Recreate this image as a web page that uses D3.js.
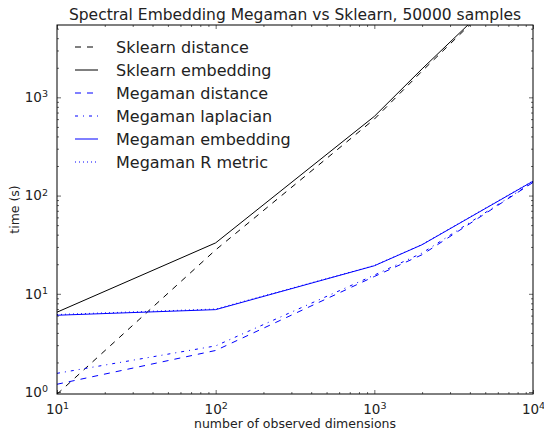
<!DOCTYPE html>
<html>
<head>
<meta charset="utf-8">
<script src="https://cdn.jsdelivr.net/npm/d3@7"></script>
<style>
  body { margin: 0; background: #fff; }
  svg { font-family: "DejaVu Sans", sans-serif; }
</style>
</head>
<body>
<div id="chart"></div>
<script>
// data
let dims = [10, 100, 1000, 2000, 10000]
let sklearnDistance = [0.95, 28, 600, 1850, 23000]
let sklearnEmbedding = [6.5, 33, 640, 1950, 23500]
let megamanDistance = [1.2, 2.65, 15, 25, 136]
let megamanLaplacian = [1.55, 2.95, 15.5, 26, 137]
let megamanEmbedding = [6.05, 6.9, 19.3, 31.6, 140]
let megamanRmetric = [6.15, 7.0, 19.4, 31.8, 141]

let seriesNames = ["Sklearn distance", "Sklearn embedding", "Megaman distance",
  "Megaman laplacian", "Megaman embedding", "Megaman R metric"]
let seriesValues = [sklearnDistance, sklearnEmbedding, megamanDistance,
  megamanLaplacian, megamanEmbedding, megamanRmetric]
let seriesColors = ["#000000", "#000000", "#0000ff", "#0000ff", "#0000ff", "#0000ff"]
let seriesDash = ["6,6", null, "6,6", "3,5,1,5", null, "1,3"]

let xTicks = [10, 100, 1000, 10000]
let yTicks = [1, 10, 100, 1000]

let svgWidth = 544
let svgHeight = 431
let margin = { top: 25, right: 11, bottom: 37, left: 57 }
let width = svgWidth - margin.left - margin.right
let height = svgHeight - margin.top - margin.bottom

let svg = d3.select("#chart").append("svg")
  .attr("width", svgWidth).attr("height", svgHeight)

let chartGroup = svg.append("g")
  .attr("transform", `translate(${margin.left}, ${margin.top})`)

let x = d3.scaleLog().domain([10, 10000]).range([0, width])
let y = d3.scaleLog().domain([0.955, 5450]).range([height, 0])

// minor ticks
function minors(lo, hi) {
  let out = []
  for (let d = lo; d < hi; d *= 10) {
    for (let k = 2; k < 10; k++) out.push(d * k)
  }
  return out
}
let xMinor = minors(10, 10000)
let yMinor = minors(0.1, 10000).filter(v => v > 0.955 && v < 5450)

function supLabels(sel) {
  sel.selectAll(".tick text").each(function (d) {
    let t = d3.select(this)
    let e = Math.round(Math.log10(d))
    t.text(null)
    t.append("tspan").text("10")
    t.append("tspan").attr("dy", "-0.5em").attr("font-size", "9.5px").text(e)
  })
}

function styleAxis(g) {
  g.select(".domain").remove()
  g.selectAll(".tick line").attr("stroke", "#000").attr("stroke-width", 0.6)
  g.selectAll("text").attr("fill", "#222")
}

// bottom and top
chartGroup.append("g").attr("transform", `translate(0,${height})`)
  .call(d3.axisBottom(x).tickValues(xTicks).tickSize(-4).tickPadding(10))
  .attr("font-size", 13.5).attr("font-family", null)
  .call(styleAxis).call(supLabels)
chartGroup.append("g").attr("transform", `translate(0,${height})`)
  .call(d3.axisBottom(x).tickValues(xMinor).tickSize(-2).tickFormat(""))
  .call(styleAxis)
chartGroup.append("g")
  .call(d3.axisTop(x).tickValues(xTicks).tickSize(-4).tickFormat(""))
  .call(styleAxis)
chartGroup.append("g")
  .call(d3.axisTop(x).tickValues(xMinor).tickSize(-2).tickFormat(""))
  .call(styleAxis)

// left and right
chartGroup.append("g")
  .call(d3.axisLeft(y).tickValues(yTicks).tickSize(-4).tickPadding(9))
  .attr("font-size", 13.5).attr("font-family", null)
  .call(styleAxis).call(supLabels)
chartGroup.append("g")
  .call(d3.axisLeft(y).tickValues(yMinor).tickSize(-2).tickFormat(""))
  .call(styleAxis)
chartGroup.append("g").attr("transform", `translate(${width},0)`)
  .call(d3.axisRight(y).tickValues(yTicks).tickSize(-4).tickFormat(""))
  .call(styleAxis)
chartGroup.append("g").attr("transform", `translate(${width},0)`)
  .call(d3.axisRight(y).tickValues(yMinor).tickSize(-2).tickFormat(""))
  .call(styleAxis)

// clip for lines
svg.append("clipPath").attr("id", "plotclip")
  .append("rect").attr("width", width).attr("height", height)

let line = d3.line()
  .x((d, i) => x(dims[i]))
  .y(d => y(d))

let lines = chartGroup.append("g").attr("clip-path", "url(#plotclip)")
seriesValues.forEach((vals, i) => {
  lines.append("path")
    .datum(vals)
    .attr("d", line)
    .attr("fill", "none")
    .attr("stroke", seriesColors[i])
    .attr("stroke-width", 1)
    .attr("stroke-dasharray", seriesDash[i])
})

// frame
chartGroup.append("rect")
  .attr("width", width).attr("height", height)
  .attr("fill", "none").attr("stroke", "#000").attr("stroke-width", 1)

// legend
let legend = chartGroup.append("g").attr("transform", "translate(18, 22)")
seriesNames.forEach((name, i) => {
  let row = legend.append("g").attr("transform", `translate(0, ${i * 23})`)
  row.append("line")
    .attr("x1", 0).attr("x2", 23).attr("y1", 0).attr("y2", 0)
    .attr("stroke", seriesColors[i]).attr("stroke-width", 1)
    .attr("stroke-dasharray", seriesDash[i])
  row.append("text")
    .attr("x", 41).attr("y", 5.5)
    .attr("font-size", 16).attr("fill", "#222")
    .text(name)
})

// titles
svg.append("text")
  .attr("x", margin.left + width / 2).attr("y", 20)
  .attr("text-anchor", "middle").attr("font-size", 15.5).attr("fill", "#222")
  .text("Spectral Embedding Megaman vs Sklearn, 50000 samples")

svg.append("text")
  .attr("x", margin.left + width / 2).attr("y", 428)
  .attr("text-anchor", "middle").attr("font-size", 12.5).attr("fill", "#222")
  .text("number of observed dimensions")

svg.append("text")
  .attr("transform", `translate(19, ${margin.top + height / 2}) rotate(-90)`)
  .attr("text-anchor", "middle").attr("font-size", 12.5).attr("fill", "#222")
  .text("time (s)")
</script>
</body>
</html>
